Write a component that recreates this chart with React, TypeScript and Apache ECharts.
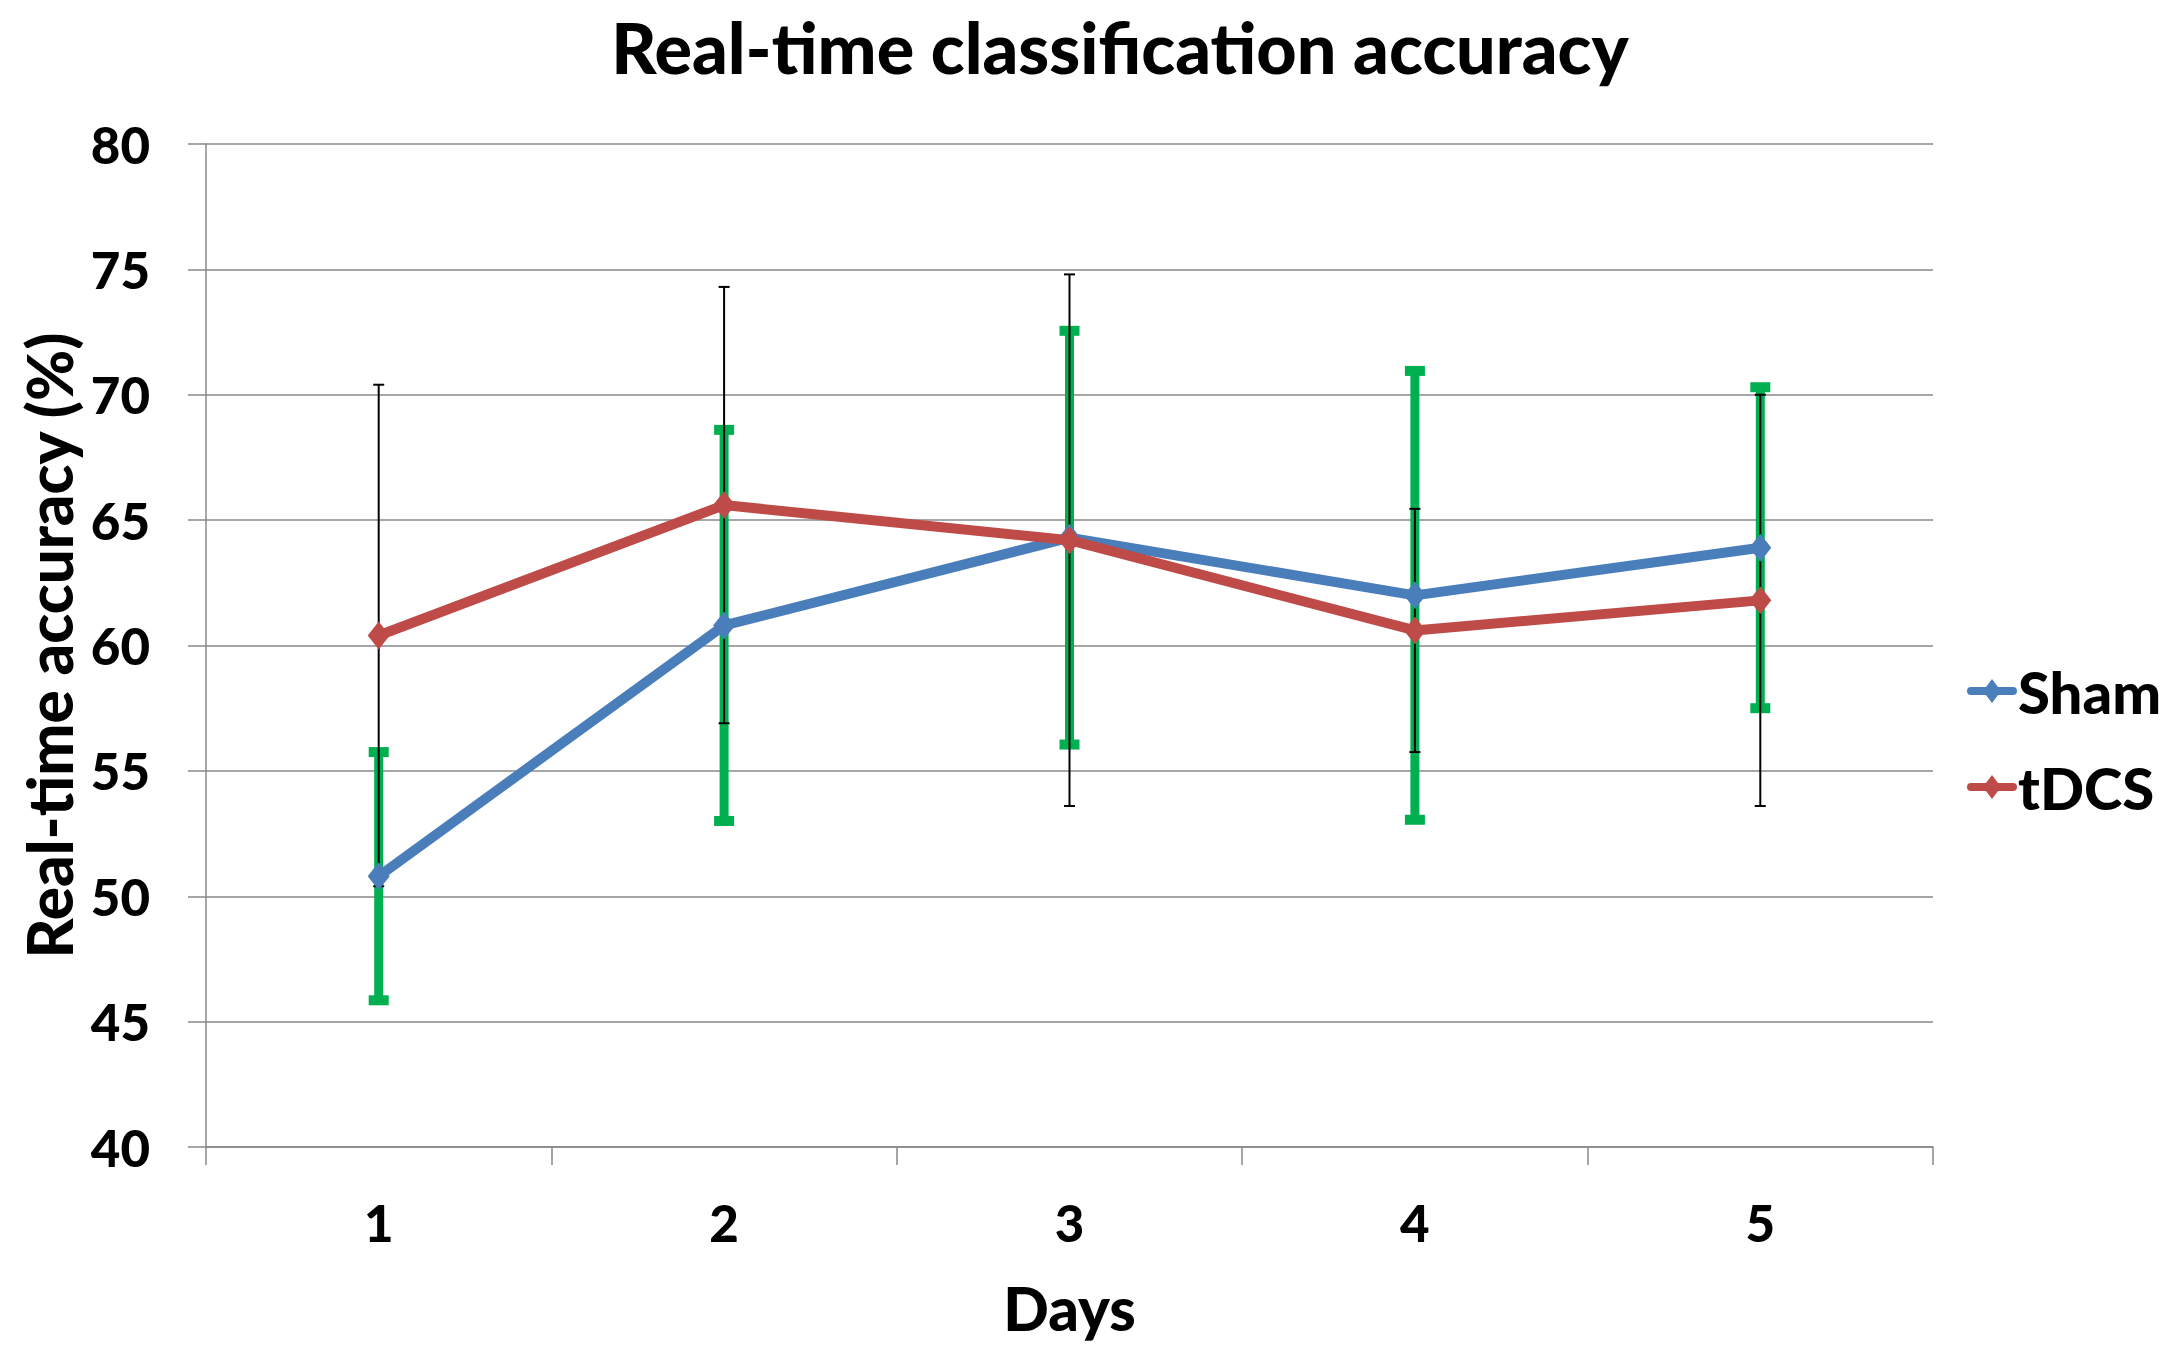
import React, { useEffect, useRef } from "react";
import * as echarts from "echarts";

// ---- data ----
const days = ["1", "2", "3", "4", "5"];
const shamMean = [50.8, 60.8, 64.3, 62.0, 63.9];
const shamErr = [4.95, 7.8, 8.25, 8.95, 6.4];
const tdcsMean = [60.4, 65.6, 64.2, 60.6, 61.8];
const tdcsErr = [10.0, 8.7, 10.6, 4.85, 8.2];
const yMin = 40;
const yMax = 80;
const yStep = 5;

const titleText = "Real-time classification accuracy";
const yName = "Real-time accuracy (%)";
const xName = "Days";

const FONT = "Lato";
const WEIGHT = 900;
const GRID_GRAY = "#888888";
const BLUE = "#4A7EBB";
const RED = "#BE4B48";
const GREEN = "#00B050";

// legend glyph: a thick line with a diamond in its middle (Excel style)
const LEGEND_ICON =
  "path://M4,8 L46,8 A4,4 0 0 1 46,16 L4,16 A4,4 0 0 1 4,8 Z M25,0 L34,12 L25,24 L16,12 Z";

function errData(mean: number[], err: number[]) {
  return mean.map((m, i) => [i, m - err[i], m + err[i]]);
}

function makeErrRender(color: string, lineWidth: number, capWidth: number, capThickness: number) {
  return (params: any, api: any) => {
    const i = api.value(0);
    const lo = api.coord([i, api.value(1)]);
    const hi = api.coord([i, api.value(2)]);
    const x = lo[0];
    return {
      type: "group",
      children: [
        {
          type: "line",
          shape: { x1: x, y1: hi[1], x2: x, y2: lo[1] },
          style: { stroke: color, lineWidth, lineCap: "butt" },
        },
        {
          type: "line",
          shape: { x1: x - capWidth / 2, y1: hi[1], x2: x + capWidth / 2, y2: hi[1] },
          style: { stroke: color, lineWidth: capThickness, lineCap: "butt" },
        },
        {
          type: "line",
          shape: { x1: x - capWidth / 2, y1: lo[1], x2: x + capWidth / 2, y2: lo[1] },
          style: { stroke: color, lineWidth: capThickness, lineCap: "butt" },
        },
      ],
    };
  };
}

export default function App() {
  const ref = useRef<HTMLDivElement>(null);

  useEffect(() => {
    document.body.style.margin = "0";
    if (!ref.current) return;
    const chart = echarts.init(ref.current, undefined, { renderer: "svg" });
    const option: any = {
      animation: false,
      backgroundColor: "#ffffff",
      textStyle: { fontFamily: FONT },
      graphic: [
        {
          type: "text",
          x: 1120,
          y: 47,
          style: {
            text: titleText,
            fontFamily: FONT,
            fontWeight: WEIGHT,
            fontSize: 70,
            fill: "#000000",
            align: "center",
            verticalAlign: "middle",
          },
        },
      ],
      grid: { left: 206, right: 251, top: 144, bottom: 209, containLabel: false },
      legend: {
        orient: "vertical",
        left: 1962,
        top: 656,
        itemWidth: 50,
        itemHeight: 24,
        itemGap: 36,
        icon: LEGEND_ICON,
        data: [
          { name: "Sham", icon: LEGEND_ICON, itemStyle: { color: BLUE } },
          { name: "tDCS", icon: LEGEND_ICON, itemStyle: { color: RED } },
        ],
        textStyle: {
          fontFamily: FONT,
          fontWeight: WEIGHT,
          fontSize: 58,
          lineHeight: 60,
          color: "#000000",
          padding: [0, 0, 0, -4],
        },
      },
      xAxis: {
        type: "category",
        data: days,
        boundaryGap: true,
        name: xName,
        nameLocation: "middle",
        nameGap: 161,
        nameTextStyle: {
          fontFamily: FONT,
          fontWeight: WEIGHT,
          fontSize: 60,
          color: "#000000",
          verticalAlign: "middle",
        },
        axisLine: { show: true, lineStyle: { color: GRID_GRAY, width: 1.5 } },
        axisTick: { show: true, length: 18, inside: false, alignWithLabel: false, lineStyle: { color: GRID_GRAY, width: 1.5 } },
        axisLabel: {
          fontFamily: FONT,
          fontWeight: WEIGHT,
          fontSize: 51,
          color: "#000000",
          margin: 75,
          verticalAlign: "middle",
        },
        splitLine: { show: false },
      },
      yAxis: {
        type: "value",
        min: yMin,
        max: yMax,
        interval: yStep,
        name: yName,
        nameLocation: "middle",
        nameGap: 155,
        nameRotate: 90,
        nameTextStyle: {
          fontFamily: FONT,
          fontWeight: WEIGHT,
          fontSize: 62,
          color: "#000000",
          verticalAlign: "middle",
        },
        axisLine: { show: true, lineStyle: { color: GRID_GRAY, width: 1.5 } },
        axisTick: { show: true, length: 18, inside: false, lineStyle: { color: GRID_GRAY, width: 1.5 } },
        axisLabel: {
          fontFamily: FONT,
          fontWeight: WEIGHT,
          fontSize: 51,
          color: "#000000",
          margin: 56,
        },
        splitLine: { show: true, lineStyle: { color: GRID_GRAY, width: 1.5 } },
      },
      series: [
        {
          name: "Sham SD",
          type: "custom",
          renderItem: makeErrRender(GREEN, 9, 20, 10),
          data: errData(shamMean, shamErr),
          encode: { x: 0, y: [1, 2] },
          z: 2,
          silent: true,
        },
        {
          name: "tDCS SD",
          type: "custom",
          renderItem: makeErrRender("#000000", 2, 11, 2),
          data: errData(tdcsMean, tdcsErr),
          encode: { x: 0, y: [1, 2] },
          z: 3,
          silent: true,
        },
        {
          name: "Sham",
          type: "line",
          data: shamMean,
          symbol: "diamond",
          symbolSize: [22, 28],
          showSymbol: true,
          lineStyle: { color: BLUE, width: 10 },
          itemStyle: { color: BLUE },
          z: 4,
        },
        {
          name: "tDCS",
          type: "line",
          data: tdcsMean,
          symbol: "diamond",
          symbolSize: [22, 28],
          showSymbol: true,
          lineStyle: { color: RED, width: 10 },
          itemStyle: { color: RED },
          z: 5,
        },
      ],
    };
    chart.setOption(option);
    return () => {
      chart.dispose();
    };
  }, []);

  return <div ref={ref} style={{ width: 2184, height: 1356 }} />;
}
